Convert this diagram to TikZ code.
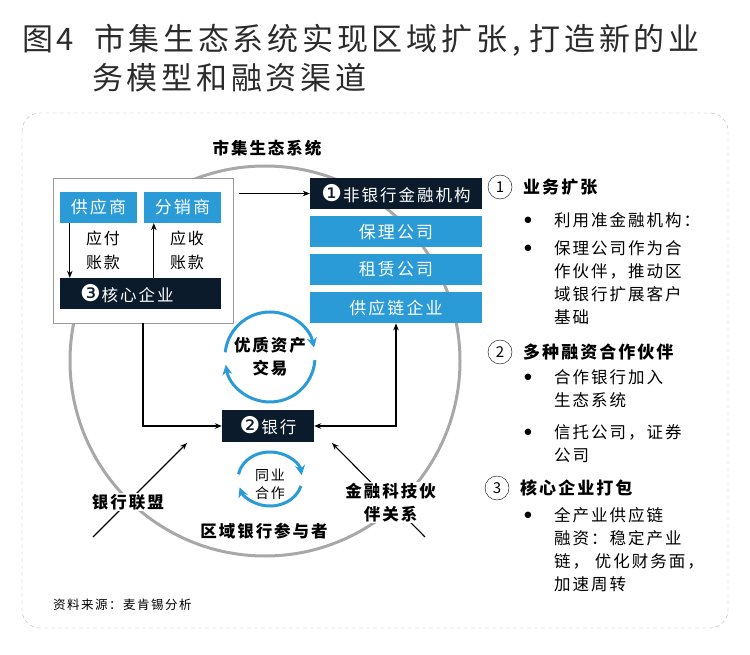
\documentclass[tikz,border=0pt]{standalone}
\usepackage{fontspec}
\setmainfont{Noto Sans CJK SC}[LetterSpace=12]
\newfontfamily\dingfont{DejaVu Sans}[Scale=1.4]
\usepackage{tikz}
\usetikzlibrary{arrows.meta,positioning}
\definecolor{ecoBlue}{HTML}{2A9BD7}
\definecolor{ecoNavy}{HTML}{0B1B2C}
\definecolor{ecoRing}{HTML}{A8A8A8}
\definecolor{ecoTitle}{HTML}{2B2B2B}
\newcommand{\ecofont}[2]{\fontsize{#1}{#2}\selectfont}
\newcommand{\negnum}[1]{{\dingfont #1}\hspace{1pt}}

\begin{document}
\begin{tikzpicture}[
    x=1pt, y=-1pt,
    >={Stealth[length=7pt, width=5.5pt]},
    link/.style={line width=1.1pt},
    headline/.style={anchor=west, inner sep=0pt, text=ecoTitle, font=\ecofont{31}{34}},
    frame/.style={draw=gray!60, dash pattern=on 4pt off 3pt, rounded corners=18pt},
    ring/.style={draw=ecoRing, line width=3pt},
    bluebox/.style={fill=ecoBlue, text=white, minimum width=#1, minimum height=31pt,
                    inner sep=0pt, font=\ecofont{17}{20}},
    bluebox/.default=77pt,
    darkbox/.style={fill=ecoNavy, text=white, minimum width=#1, minimum height=31pt,
                    inner sep=0pt, font=\ecofont{16.5}{20}},
    whitebox/.style={draw=gray!80, fill=white, minimum width=180pt, minimum height=145pt},
    txt/.style={align=center, inner sep=1pt, font=\ecofont{16}{24}},
    boldtxt/.style={align=center, inner sep=1pt, font=\bfseries\ecofont{16.5}{23}},
    smalltxt/.style={align=center, inner sep=1pt, font=\ecofont{14}{18}},
    cycle/.style={draw=ecoBlue, line width=3pt, -{Stealth[length=10pt, width=10pt]}},
    numcirc/.style={draw, circle, minimum size=24pt, inner sep=0pt, font=\ecofont{15}{15}},
    keyhead/.style={anchor=west, inner sep=0pt, font=\bfseries\ecofont{17}{20}},
    bul/.style={inner sep=0pt, font=\dingfont\ecofont{6}{6}},
    item/.style={anchor=north west, inner sep=0pt, align=left, font=\ecofont{16.5}{23}},
  ]
  \useasboundingbox (0,0) rectangle (750,655);

  % --- heading ---
  \node[headline] (title1) at (22,40) {图4\hspace{20pt}市集生态系统实现区域扩张\hspace{5pt},\hspace{9pt}打造新的业};
  \node[headline] (title2) at (92,78) {务模型和融资渠道};

  % --- frame and ecosystem ring ---
  \draw[frame] (22,113) rectangle (728,628);
  \draw[ring] (265,361) circle[radius=195];
  \node[boldtxt] (eco) at (267,148) {市集生态系统};

  % --- core enterprise block ---
  \node[whitebox] (chainbox) at (143,250.5) {};
  \node[bluebox] (supplier) at (98.5,207.5) {供应商};
  \node[bluebox] (distrib) at (182.5,207.5) {分销商};
  \node[darkbox=161pt, text width=121pt, inner xsep=20pt, align=left] (core)
    at (140.5,293.5) {\negnum{❸}核心企业};
  \draw[link, ->] ([xshift=10pt]supplier.south west) -- ([xshift=10pt]supplier.south west |- core.north);
  \draw[link, ->] ([xshift=10pt]distrib.south west |- core.north) -- ([xshift=10pt]distrib.south west);
  \node[txt] (payable) at (103,250) {应付\\账款};
  \node[txt] (receivable) at (187,250) {应收\\账款};

  % --- non-bank financial institutions ---
  \node[darkbox=172pt] (nonbank) at (396,193.5) {\negnum{❶}非银行金融机构};
  \node[bluebox=172pt, below=7pt of nonbank] (factor) {保理公司};
  \node[bluebox=172pt, below=6pt of factor] (lease) {租赁公司};
  \node[bluebox=172pt, below=7pt of lease] (supchain) {供应链企业};
  \draw[link, ->, shorten <=6pt] (chainbox.east |- nonbank.west) -- (nonbank.west);

  % --- bank ---
  \node[darkbox=92pt, minimum height=32pt] (bank) at (268,426) {\negnum{❷}银行\hspace{8pt}};
  \draw[link, ->] (chainbox.south) |- (bank.west);
  \draw[link, <->] (bank.east) -| (supchain.south);

  % --- cycles ---
  \coordinate (cycA) at (270,357);
  \coordinate (cycB) at (270,479);
  \draw[cycle] ([shift={(-174:45)}]cycA) arc[start angle=-174, end angle=-12, radius=45];
  \draw[cycle] ([shift={(4:45)}]cycA) arc[start angle=4, end angle=170, radius=45];
  \draw[cycle] ([shift={(-170:32 and 27)}]cycB) arc[start angle=-170, end angle=-8, x radius=32, y radius=27];
  \draw[cycle] ([shift={(15:32 and 27)}]cycB) arc[start angle=15, end angle=162, x radius=32, y radius=27];
  \node[boldtxt] (trade) at (cycA) {优质资产\\交易};
  \node[smalltxt] (interbank) at (270,484) {同业\\合作};

  % --- outer participants ---
  \coordinate (allyfoot) at (93,537);
  \coordinate (allytip) at (187,443);
  \coordinate (techfoot) at (425,537);
  \coordinate (techtip) at (332,443);
  \draw[link, ->] (allyfoot) -- node[boldtxt, fill=white, pos=0.37] (alliance) {银行联盟} (allytip);
  \draw[link, ->] (techfoot) -- node[boldtxt, fill=white, pos=0.37] (fintech) {金融科技伙\\伴关系} (techtip);
  \node[boldtxt] (regional) at (264,531) {区域银行参与者};

  % --- key points (right column) ---
  \node[numcirc] (k1) at (500,187) {1};
  \node[keyhead] (k1head) at (523,187) {业务扩张};
  \node[bul] (b1a) at (528,220) {●};
  \node[item] (i1a) at (554,212) {利用准金融机构：};
  \node[bul] (b1b) at (528,248) {●};
  \node[item] (i1b) at (554,240) {保理公司作为合\\作伙伴，推动区\\域银行扩展客户\\基础};

  \node[numcirc] (k2) at (500,352) {2};
  \node[keyhead] (k2head) at (523,352) {多种融资合作伙伴};
  \node[bul] (b2a) at (528,377) {●};
  \node[item] (i2a) at (554,369) {合作银行加入\\生态系统};
  \node[bul] (b2b) at (528,432) {●};
  \node[item] (i2b) at (554,424) {信托公司，证券\\公司};

  \node[numcirc] (k3) at (497,488) {3};
  \node[keyhead] (k3head) at (520,488) {核心企业打包};
  \node[bul] (b3a) at (528,515) {●};
  \node[item] (i3a) at (554,507) {全产业供应链\\融资：稳定产业\\链， 优化财务面，\\加速周转};

  % --- source ---
  \node[anchor=west, inner sep=0pt, font=\ecofont{12.5}{14}] (src) at (53,605) {资料来源：麦肯锡分析};

\end{tikzpicture}
\end{document}
